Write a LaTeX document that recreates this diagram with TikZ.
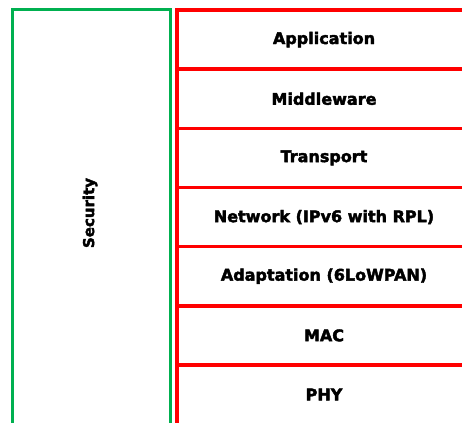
\documentclass[tikz,border=0pt]{standalone}
\usepackage{fontspec}
\setmainfont{DejaVu Sans}
\newfontfamily\layfont{DejaVu Sans Bold}[FakeBold=2.5]
\definecolor{secgreen}{HTML}{00B050}
\definecolor{layred}{HTML}{FF0000}
\begin{document}
\begin{tikzpicture}[x=1pt,y=-1pt,
  greenline/.style={draw=secgreen,line width=3pt},
  redline/.style={draw=layred,line width=3.4pt},
  laytext/.style={font=\layfont\fontsize{16}{19}\selectfont,inner sep=0pt,anchor=center}]
\useasboundingbox (0,0) rectangle (462,422);
% security column
\coordinate (gbl) at (12,424);
\coordinate (gtl) at (12,10);
\coordinate (gtr) at (170,10);
\coordinate (gbr) at (170,424);
\draw[greenline] (gbl) -- (gtl) -- (gtr) -- (gbr);
\node[laytext,rotate=90,font=\layfont\fontsize{15}{18}\selectfont] (sec) at (90,213) {Security};
% layers
\coordinate (rbl) at (177,424);
\coordinate (rtl) at (177,8.3);
\draw[redline] (rbl) -- (rtl);
\foreach \i/\y in {0/10,1/69.2,2/128.3,3/187.5,4/246.7,5/305.8,6/365}{
  \coordinate (l\i a) at (175.3,\y);
  \coordinate (l\i b) at (475,\y);
  \draw[redline] (l\i a) -- (l\i b);
}
\node[laytext] (app) at (324,39.6) {Application};
\node[laytext] (mid) at (324,98.8) {Middleware};
\node[laytext] (tra) at (324,157.9) {Transport};
\node[laytext] (net) at (324,217.1) {Network (IPv6 with RPL)};
\node[laytext] (ada) at (324,276.2) {Adaptation (6LoWPAN)};
\node[laytext] (mac) at (324,335.4) {MAC};
\node[laytext] (phy) at (324,394.5) {PHY};
\end{tikzpicture}
\end{document}
